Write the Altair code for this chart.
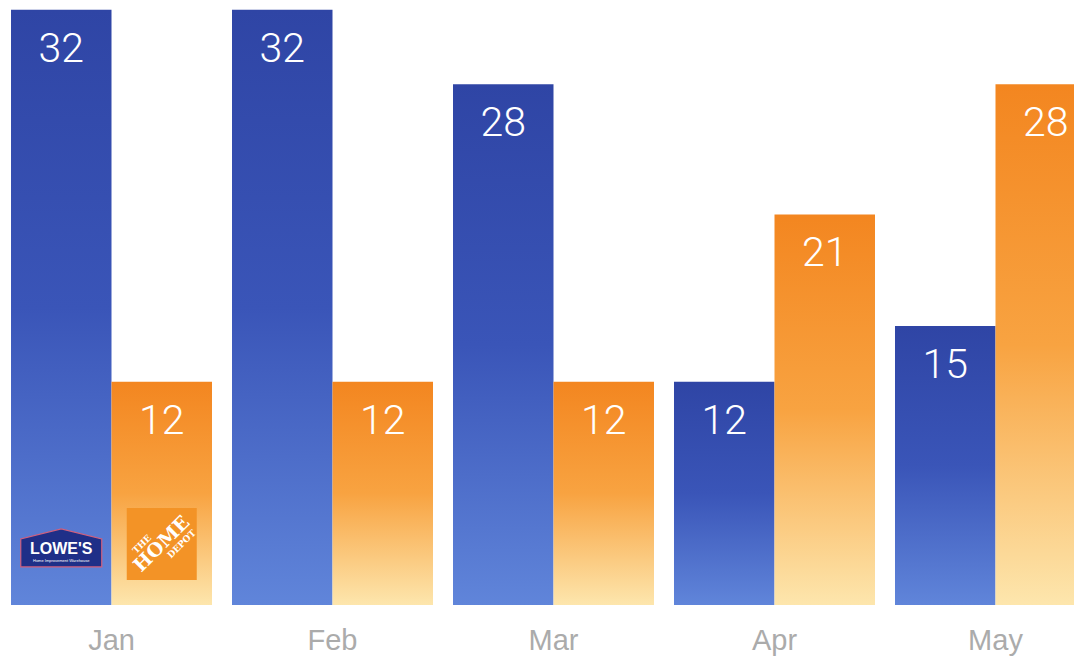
import altair as alt
import pandas as pd

months = ["Jan", "Feb", "Mar", "Apr", "May"]
stores = ["Lowe's", "The Home Depot"]
lowes = [32, 32, 28, 12, 15]
home_depot = [12, 12, 12, 21, 28]

rows = []
for m, a, b in zip(months, lowes, home_depot):
    rows.append({"month": m, "store": stores[0], "value": a})
    rows.append({"month": m, "store": stores[1], "value": b})
df = pd.DataFrame(rows)

# logo annotations sitting at the bottom of the January bars
logo_store = stores
logo_lo = [2.15, 1.34]
logo_hi = [4.03, 5.22]
logo_mid = [3.07, 3.28]
logos = pd.DataFrame({"month": ["Jan", "Jan"], "store": logo_store,
                      "lo": logo_lo, "hi": logo_hi, "mid": logo_mid})

blue = alt.LinearGradient(
    gradient="linear", x1=0, x2=0, y1=0, y2=1,
    stops=[alt.GradientStop(color="#2f45a5", offset=0),
           alt.GradientStop(color="#3a55b8", offset=0.5),
           alt.GradientStop(color="#6085da", offset=1)])
orange = alt.LinearGradient(
    gradient="linear", x1=0, x2=0, y1=0, y2=1,
    stops=[alt.GradientStop(color="#f38620", offset=0),
           alt.GradientStop(color="#f8a341", offset=0.5),
           alt.GradientStop(color="#fde6ad", offset=1)])

x_enc = alt.X("month:N", sort=months, title=None,
              scale=alt.Scale(paddingInner=0.0905, paddingOuter=0.0136, range=[0, 1091]),
              axis=alt.Axis(domain=False, ticks=False, labelPadding=44, labelFontSize=29,
                            labelColor="#ababab", labelFont="Liberation Sans",
                            labelAngle=0, labelBaseline="alphabetic", grid=False))
xo_enc = alt.XOffset("store:N", sort=stores,
                     scale=alt.Scale(domain=stores, paddingInner=0, paddingOuter=0))
y_scale = alt.Scale(domain=[0, 32.1], nice=False, zero=True)
y_enc = alt.Y("value:Q", scale=y_scale, axis=None)
y_mid = alt.Y("mid:Q", scale=y_scale, axis=None)

base = alt.Chart(df)

bars_l = base.transform_filter(alt.datum.store == stores[0]).mark_bar(
    color=blue, clip=True).encode(x=x_enc, xOffset=xo_enc, y=y_enc)
bars_h = base.transform_filter(alt.datum.store == stores[1]).mark_bar(
    color=orange, clip=True).encode(x=x_enc, xOffset=xo_enc, y=y_enc)

labels = base.mark_text(
    color="white", fontSize=41, font="Roboto", fontWeight=300,
    baseline="middle", dy=40, clip=True).encode(
    x=x_enc, xOffset=xo_enc, y=y_enc, text="value:Q")

lb = alt.Chart(logos)
lowes_only = alt.datum.store == stores[0]
hd_only = alt.datum.store == stores[1]

lowes_house = lb.transform_filter(lowes_only).mark_point(
    shape="M -1 0.47 L -1 -0.22 L 0 -0.47 L 1 -0.22 L 1 0.47 Z", size=6561,
    filled=True, color="#1f2f88", opacity=1, stroke="#d0607e", strokeWidth=1.2).encode(
    x=x_enc, xOffset=xo_enc, y=y_mid)
lowes_txt = lb.transform_filter(lowes_only).mark_text(
    text="LOWE'S", color="white", fontSize=16, fontWeight="bold",
    font="Liberation Sans", baseline="middle", dy=1).encode(
    x=x_enc, xOffset=xo_enc, y=y_mid)
lowes_sub = lb.transform_filter(lowes_only).mark_text(
    text="Home Improvement Warehouse", color="white", fontSize=4,
    font="Liberation Sans", baseline="middle", dy=13).encode(
    x=x_enc, xOffset=xo_enc, y=y_mid)

hd_box = lb.transform_filter(hd_only).mark_bar(
    width=70, color="#f39326").encode(
    x=x_enc, xOffset=xo_enc, y=alt.Y("lo:Q", scale=y_scale, axis=None), y2="hi:Q")
hd_home = lb.transform_filter(hd_only).mark_text(
    text="HOME", color="white", fontSize=19, fontWeight="bold", font="DejaVu Serif",
    angle=315, baseline="middle").encode(
    x=x_enc, xOffset=xo_enc, y=y_mid)
hd_the = lb.transform_filter(hd_only).mark_text(
    text="THE", color="white", fontSize=9, fontWeight="bold", font="DejaVu Serif",
    angle=315, baseline="middle", dx=-14, dy=-14).encode(
    x=x_enc, xOffset=xo_enc, y=y_mid)
hd_depot = lb.transform_filter(hd_only).mark_text(
    text="DEPOT", color="white", fontSize=9, fontWeight="bold", font="DejaVu Serif",
    angle=315, baseline="middle", dx=14, dy=14).encode(
    x=x_enc, xOffset=xo_enc, y=y_mid)

chart = alt.layer(
    bars_l, bars_h, labels, lowes_house, lowes_txt, lowes_sub,
    hd_box, hd_home, hd_the, hd_depot
).properties(
    width=1066, height=597, background="white",
    autosize=alt.AutoSizeParams(type="none"),
    padding={"left": 0, "top": 0, "right": 0, "bottom": 52}
).configure_view(stroke=None)

chart.save("out.html", embed_options={"renderer": "svg", "actions": False})
